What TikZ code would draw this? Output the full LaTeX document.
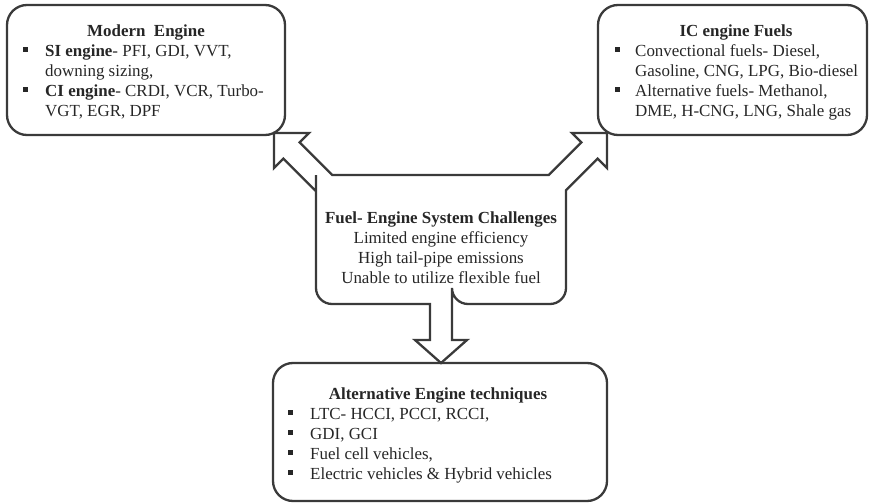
\documentclass[tikz,border=0pt]{standalone}
\usepackage{fontspec}
\setmainfont{Liberation Serif}
\definecolor{linec}{HTML}{3A3A3A}
\definecolor{textc}{HTML}{262626}
\begin{document}
\begin{tikzpicture}[x=1bp,y=-1bp,
  box/.style={draw=linec,line width=2.3bp,rounded corners=20bp,inner sep=0},
  txt/.style={inner sep=0,anchor=base west,text=textc,font=\fontsize{17}{20}\selectfont},
  ttl/.style={inner sep=0,anchor=base,text=textc,font=\fontsize{17}{20}\selectfont\bfseries},
  bul/.style={fill=textc}]
\useasboundingbox (0,0) rectangle (870,503);
% boxes
\draw[box] (7,5) rectangle (285,135);
\node[inner sep=0] (modern) at (146,70) {};
\draw[box] (598,5) rectangle (867,135);
\node[inner sep=0] (fuels) at (732,70) {};
\draw[box] (273,363) rectangle (607,501);
\node[inner sep=0] (alt) at (440,432) {};
% central shape with three block arrows
\draw[draw=linec,line width=2.3bp,line join=miter]
  (332.2,175) -- (548.8,175) -- (581.4,142.4) -- (572,133) -- (607,133)
  -- (607,168) -- (597.6,158.6) -- (566,190.2)
  [rounded corners=16bp] -- (566,304) -- (452,304) [sharp corners]
  -- (452,304) -- (452,340) -- (467,340) -- (441,363) -- (415,340) -- (430,340) -- (430,304)
  [rounded corners=16bp] -- (316,304) -- (316,191.2) [sharp corners]
  -- (316,191.2) -- (283.4,158.6) -- (274,168) -- (274,133) -- (309,133) -- (299.6,142.4) -- cycle;
\node[inner sep=0] (chal) at (441,240) {};
% Modern engine text
\node[ttl] (mt) at (146,37) {Modern\ \ Engine};
\fill[bul] (22.5,47.5) rectangle +(5,5);
\node[txt] (m1) at (45,57) {\textbf{SI engine}- PFI, GDI, VVT,};
\node[txt] (m2) at (45,77) {downing sizing,};
\fill[bul] (22.5,87.5) rectangle +(5,5);
\node[txt] (m3) at (45,97) {\textbf{CI engine}- CRDI, VCR, Turbo-};
\node[txt] (m4) at (45,117) {VGT, EGR, DPF};
% IC engine fuels
\node[ttl] (ft) at (736,37) {IC engine Fuels};
\fill[bul] (614.5,47.5) rectangle +(5,5);
\node[txt] (f1) at (635,57) {Convectional fuels- Diesel,};
\node[txt] (f2) at (635,77) {Gasoline, CNG, LPG, Bio-diesel};
\fill[bul] (614.5,87.5) rectangle +(5,5);
\node[txt] (f3) at (635,97) {Alternative fuels- Methanol,};
\node[txt] (f4) at (635,117) {DME, H-CNG, LNG, Shale gas};
% challenges
\node[ttl] (ct) at (441,224) {Fuel- Engine System Challenges};
\node[txt,anchor=base] (c1) at (441,244) {Limited engine efficiency};
\node[txt,anchor=base] (c2) at (441,264) {High tail-pipe emissions};
\node[txt,anchor=base] (c3) at (441,284) {Unable to utilize flexible fuel};
% alternative engine techniques
\node[ttl] (at) at (438,399) {Alternative Engine techniques};
\fill[bul] (287.5,409.5) rectangle +(5,5);
\node[txt] (a1) at (310,419) {LTC- HCCI, PCCI, RCCI,};
\fill[bul] (287.5,429.5) rectangle +(5,5);
\node[txt] (a2) at (310,439) {GDI, GCI};
\fill[bul] (287.5,449.5) rectangle +(5,5);
\node[txt] (a3) at (310,459) {Fuel cell vehicles,};
\fill[bul] (287.5,469.5) rectangle +(5,5);
\node[txt] (a4) at (310,479) {Electric vehicles \& Hybrid vehicles};
\end{tikzpicture}
\end{document}
